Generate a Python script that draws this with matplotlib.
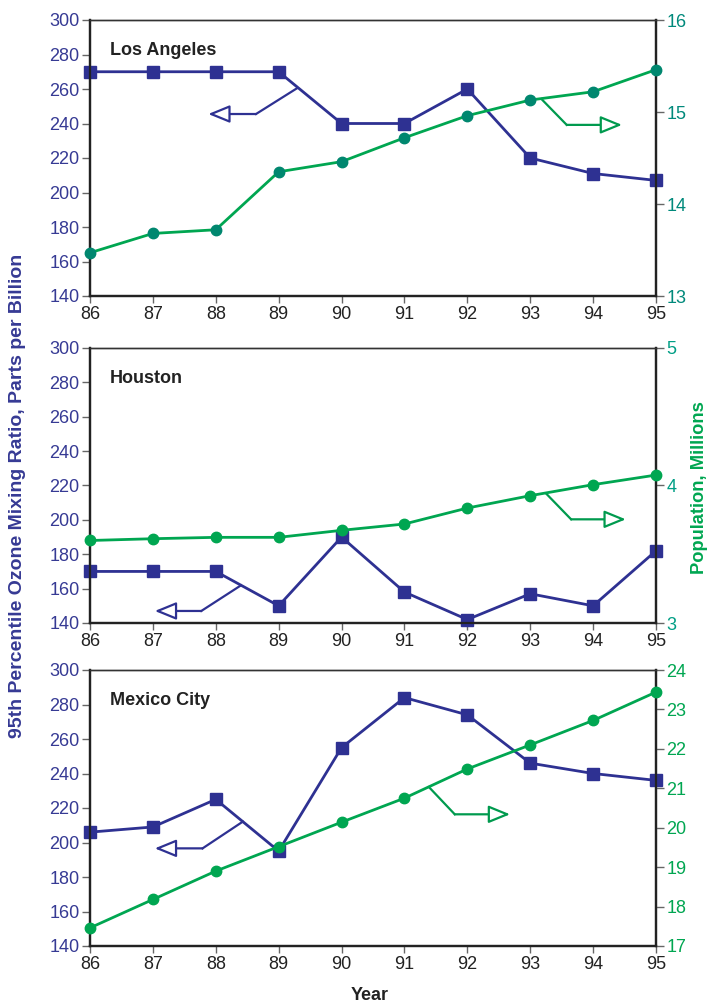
import matplotlib
matplotlib.use("Agg")
import matplotlib.pyplot as plt

plt.rcParams['font.family'] = ['Liberation Sans', 'DejaVu Sans']

years = [86, 87, 88, 89, 90, 91, 92, 93, 94, 95]
year_labels = ["86", "87", "88", "89", "90", "91", "92", "93", "94", "95"]
cities = ["Los Angeles", "Houston", "Mexico City"]

ozone_la = [270, 270, 270, 270, 240, 240, 260, 220, 211, 207]
pop_la = [13.47, 13.68, 13.72, 14.35, 14.46, 14.72, 14.96, 15.13, 15.22, 15.46]

ozone_hou = [170, 170, 170, 150, 190, 158, 142, 157, 150, 182]
pop_hou = [3.60, 3.613, 3.623, 3.623, 3.674, 3.72, 3.836, 3.926, 4.006, 4.076]

ozone_mex = [206, 209, 225, 195, 255, 284, 274, 246, 240, 236]
pop_mex = [17.46, 18.18, 18.90, 19.52, 20.14, 20.75, 21.49, 22.10, 22.72, 23.44]

ozone_ticks = [140, 160, 180, 200, 220, 240, 260, 280, 300]
pop_ticks_la = [13, 14, 15, 16]
pop_ticks_hou = [3, 4, 5]
pop_ticks_mex = [17, 18, 19, 20, 21, 22, 23, 24]

# arrow paths (start on line, corner, tip) in data coords
arrow_ozone = [
    [(89.29, 260.4), (88.64, 245.5), (87.88, 245.5)],
    [(88.40, 161.9), (87.77, 147.0), (87.03, 147.0)],
    [(88.43, 212.1), (87.79, 196.6), (87.03, 196.6)],
]
arrow_pop = [
    [(93.18, 15.14), (93.58, 14.86), (94.46, 14.86)],
    [(93.26, 3.938), (93.65, 3.754), (94.52, 3.754)],
    [(91.39, 21.03), (91.80, 20.34), (92.68, 20.34)],
]

BLUE = "#2E3192"
BLUE_TXT = "#363A94"
GREEN = "#00A651"
marker_greens = ["#00876F", "#00A651", "#00A651"]
right_label_colors = ["#00897B", "#009E85", "#00A651"]

fig = plt.figure(figsize=(7.08, 10.06), dpi=100)

positions = [
    [90 / 708, 1 - 296 / 1006, 566 / 708, 276 / 1006],
    [90 / 708, 1 - 623 / 1006, 566 / 708, 275 / 1006],
    [90 / 708, 1 - 946 / 1006, 566 / 708, 276 / 1006],
]
ozone_all = [ozone_la, ozone_hou, ozone_mex]
pop_all = [pop_la, pop_hou, pop_mex]
pop_ticks_all = [pop_ticks_la, pop_ticks_hou, pop_ticks_mex]

for i in range(3):
    ax = fig.add_axes(positions[i])
    ax2 = ax.twinx()

    ax.plot(years, ozone_all[i], color=BLUE, lw=2.0, marker='s', ms=8,
            mfc=BLUE, mec=BLUE, zorder=3, clip_on=False)
    ax2.plot(years, pop_all[i], color=GREEN, lw=2.0, marker='o', ms=7.5,
             mfc=marker_greens[i], mec=marker_greens[i], zorder=3, clip_on=False)

    ax.set_xlim(86, 95)
    ax.set_ylim(140, 300)
    ax2.set_ylim(pop_ticks_all[i][0], pop_ticks_all[i][-1])
    ax.set_xticks(years)
    ax.set_xticklabels(year_labels)
    ax.set_yticks(ozone_ticks)
    ax2.set_yticks(pop_ticks_all[i])

    ax.tick_params(axis='x', direction='out', length=5, width=1, color='#666666',
                   labelsize=13, labelcolor='#222222', pad=2)
    ax.tick_params(axis='y', direction='out', length=6, width=1, color='#666666',
                   labelsize=13, labelcolor=BLUE_TXT, pad=1.5)
    ax2.tick_params(axis='y', direction='out', length=6, width=1, color='#666666',
                    labelsize=13, labelcolor=right_label_colors[i], pad=1.5)

    for a in (ax, ax2):
        for s in ['left', 'bottom', 'right']:
            a.spines[s].set_linewidth(1.6)
            a.spines[s].set_color('#222222')
        a.spines['top'].set_linewidth(1.0)
        a.spines['top'].set_color('#333333')

    ax.text(0.035, 0.888, cities[i], transform=ax.transAxes, fontsize=13,
            fontweight='bold', color='#222222', va='center', ha='left')

    # arrows
    p = arrow_ozone[i]
    ax.plot([p[0][0], p[1][0]], [p[0][1], p[1][1]], color=BLUE, lw=1.6, zorder=2)
    ax.annotate("", xy=p[2], xytext=p[1],
                arrowprops=dict(arrowstyle="-|>,head_length=1.1,head_width=0.45",
                                fc='white', ec=BLUE, lw=1.6, shrinkA=0, shrinkB=0,
                                mutation_scale=12), zorder=2)
    q = arrow_pop[i]
    ax2.plot([q[0][0], q[1][0]], [q[0][1], q[1][1]], color="#009A4E", lw=1.6, zorder=2)
    ax2.annotate("", xy=q[2], xytext=q[1],
                 arrowprops=dict(arrowstyle="-|>,head_length=1.1,head_width=0.45",
                                 fc='white', ec="#009A4E", lw=1.6, shrinkA=0, shrinkB=0,
                                 mutation_scale=12), zorder=2)

fig.text(18 / 708, 1 - 496 / 1006, "95th Percentile Ozone Mixing Ratio, Parts per Billion",
         rotation=90, ha='center', va='center', fontsize=14, fontweight='bold', color=BLUE_TXT)
fig.text(699 / 708, 1 - 488 / 1006, "Population, Millions",
         rotation=90, ha='center', va='center', fontsize=13.2, fontweight='bold', color="#00A651")
fig.text(370 / 708, 1 - 995 / 1006, "Year", ha='center', va='center', fontsize=13,
         fontweight='bold', color='#222222')

fig.savefig("out.png", dpi=100)
